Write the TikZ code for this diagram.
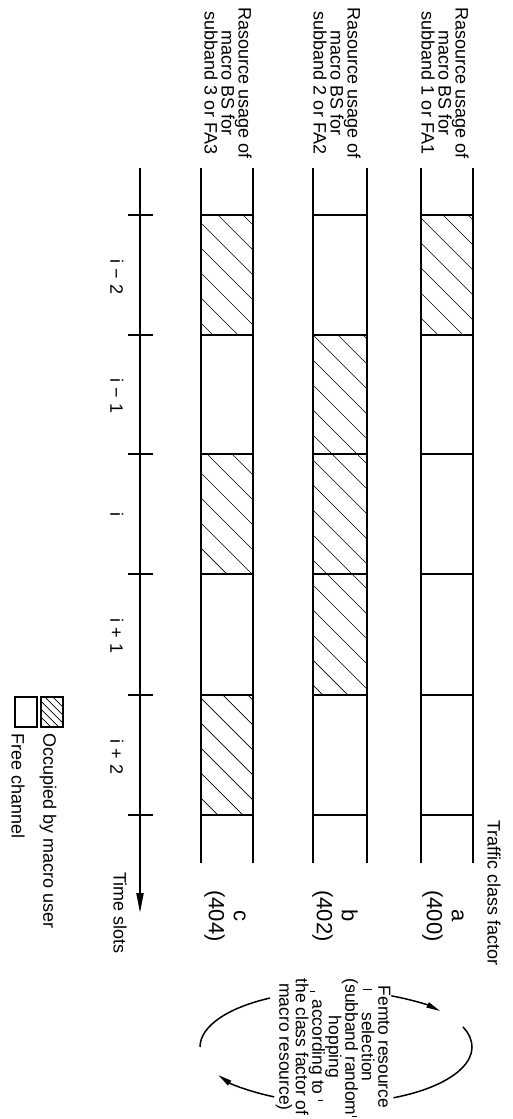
\documentclass[tikz,border=0pt]{standalone}
\usepackage{fontspec}
\setmainfont{Liberation Sans}
\usetikzlibrary{arrows.meta,calc}
\newcommand\hatchcell[4]{%
  \begin{scope}
    \clip (#1,#3) rectangle (#2,#4);
    \foreach \k in {-772,-747,...,278}
      \draw[hatchline] (\k+#3-60,#3-60) -- (\k+#4+60,#4+60);
  \end{scope}}
\newcommand\hatchkey[4]{%
  \begin{scope}
    \clip (#1,#3) rectangle (#2,#4);
    \foreach \k in {-700,-692,...,-620}
      \draw[hatchline] (\k+#3-20,#3-20) -- (\k+#4+20,#4+20);
  \end{scope}}
\begin{document}
\begin{tikzpicture}[x=1pt,y=-1pt,
  band/.style={line width=2.2pt},
  slotline/.style={line width=1.8pt},
  hatchline/.style={line width=0.7pt},
  axisline/.style={line width=2pt},
  lbl/.style={rotate=-90,font=\fontsize{18}{17}\selectfont,align=center,inner sep=0pt},
  num/.style={rotate=-90,font=\fontsize{22}{25}\selectfont,align=center,inner sep=0pt},
  arcline/.style={line width=1.5pt},
  tip/.style={-{Triangle[length=14pt,width=5.5pt]}}]
\useasboundingbox (0,0) rectangle (512,1119);
\fill[white] (0,0) rectangle (512,1119);

% hatched (occupied) cells
\hatchcell{421}{473}{215}{335}
\hatchcell{313}{367}{335}{454}
\hatchcell{313}{367}{454}{574}
\hatchcell{313}{367}{574}{695}
\hatchcell{201}{253}{215}{335}
\hatchcell{201}{253}{454}{574}
\hatchcell{201}{253}{695}{815}

% bands
\foreach \xl/\xr in {421/473,313/367,201/253}{
  \draw[band] (\xl,168) -- (\xl,863);
  \draw[band] (\xr,168) -- (\xr,863);
  \foreach \y in {215,335,454,574,695,815}
    \draw[slotline] (\xl,\y) -- (\xr,\y);
}

% band labels
\node[lbl] (la) at (445,83) {Rasource usage of\\macro BS for\\subband 1 or FA1};
\node[lbl] (lb) at (337,83) {Rasource usage of\\macro BS for\\subband 2 or FA2};
\node[lbl] (lc) at (228,83) {Rasource usage of\\macro BS for\\subband 3 or FA3};

% time axis
\coordinate (t0) at (140,168);
\coordinate (t1) at (140,913);
\draw[axisline,-{Triangle[length=20pt,width=7pt]}] (t0) -- (t1);
\foreach \y in {215,335,454,574,695,815}
  \draw[axisline] (128,\y) -- (153,\y);
\node[lbl] (s1) at (117,277) {i − 2};
\node[lbl] (s2) at (117,396) {i − 1};
\node[lbl] (s3) at (117,514) {i};
\node[lbl] (s4) at (117,636) {i + 1};
\node[lbl] (s5) at (117,757) {i + 2};
\node[lbl,anchor=west] (ts) at (120,872) {Time slots};

% traffic class factor
\node[lbl,anchor=west] (tcf) at (494,820) {Traffic class factor};
\node[num] (na) at (443,916) {a\\(400)};
\node[num] (nb) at (335,916) {b\\(402)};
\node[num] (nc) at (225,916) {c\\(404)};

% femto resource selection
\node[lbl,font=\fontsize{17.5}{16.5}\selectfont] (femto) at (333,1047)
  {Femto resource\\selection\\(subband random\\hopping\\according to\\the class factor of\\macro resource)};
\coordinate (ctr) at (336,1047);
\draw[arcline,tip] ($(ctr)+(-66:136 and 56)$) arc[start angle=-66,end angle=-40,x radius=136,y radius=56];
\draw[arcline] ($(ctr)+(-21:136 and 56)$) arc[start angle=-21,end angle=65,x radius=136,y radius=56];
\draw[arcline,tip] ($(ctr)+(117:136 and 56)$) arc[start angle=117,end angle=150,x radius=136,y radius=56];
\draw[arcline] ($(ctr)+(241:136 and 56)$) arc[start angle=241,end angle=180,x radius=136,y radius=56];
\foreach \xa/\xb/\y in {363/372/989,347/352/991,310/315/991,352/357/1116,318/323/1100}
  \draw[line width=1pt] (\xa,\y) -- (\xb,\y);

% legend
\hatchkey{41}{63}{697}{727}
\draw[line width=1.4pt] (41,697) rectangle (63,727);
\draw[line width=1.4pt] (15,697) rectangle (37,727);
\node[lbl,anchor=west] (lo) at (48,733) {Occupied by macro user};
\node[lbl,anchor=west] (lf) at (18,733) {Free channel};
\end{tikzpicture}
\end{document}
